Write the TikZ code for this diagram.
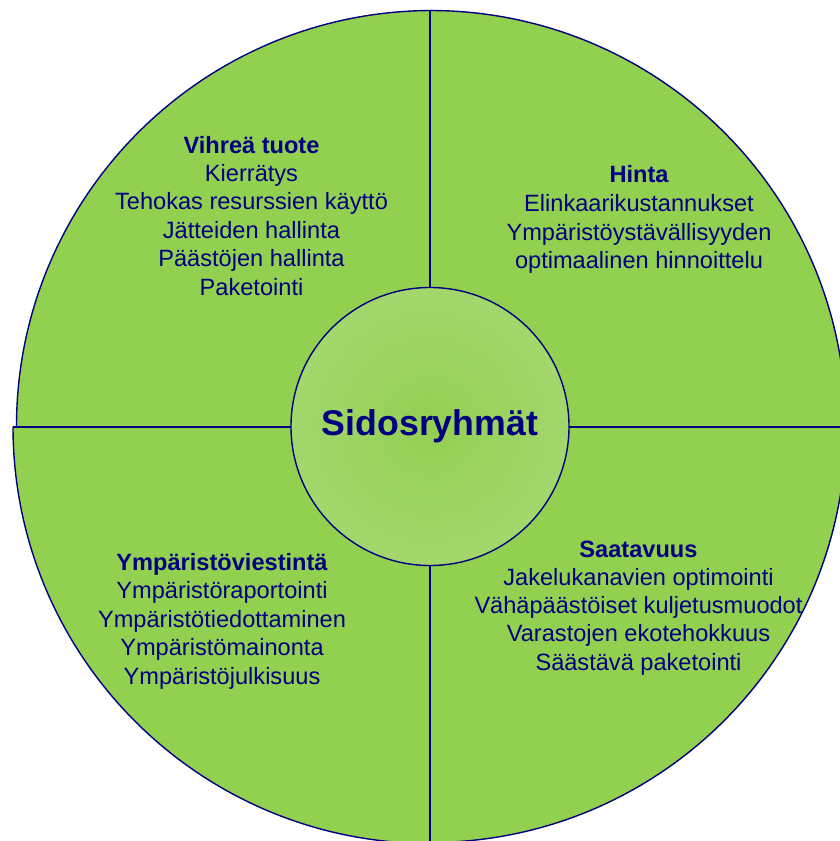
\documentclass[tikz,border=0pt]{standalone}
\usepackage{fontspec}
\setmainfont{Liberation Sans}
\definecolor{leaf}{HTML}{92D050}
\definecolor{ink}{HTML}{000080}
\definecolor{hubin}{HTML}{93D051}
\definecolor{hubout}{HTML}{B3DE88}
% soft radial glow for the central disc: green core, paler rim
\pgfdeclareradialshading{hubglow}{\pgfpoint{0bp}{0bp}}{color(0bp)=(hubin); color(50bp)=(hubout); color(100bp)=(hubout)}
\begin{document}
\begin{tikzpicture}[x=1pt,y=-1pt,
  sector/.style={fill=leaf},
  rim/.style={draw=ink,line width=1.4pt},
  divider/.style={draw=ink,line width=2pt},
  head/.style={anchor=base,text=ink,inner sep=0pt,font=\fontsize{23.6}{28}\selectfont\bfseries},
  item/.style={anchor=base,text=ink,inner sep=0pt,font=\fontsize{23.6}{28}\selectfont},
  hub/.style={circle,minimum size=278pt,inner sep=0pt,draw=ink,line width=1.4pt,
    shading=hubglow,text=ink,font=\fontsize{35.7}{40}\selectfont\bfseries}]
\useasboundingbox (0,0) rectangle (840,841);
\clip (0,0) rectangle (840,841);

% four quarter sectors of the wheel
\coordinate (c)  at (430,426.5);
\coordinate (cu) at (432.5,426.5);
\fill[sector] (cu) -- ++(180:416) arc (180:270:416) -- cycle;
\fill[sector] (c)  -- ++(270:416) arc (270:360:416) -- cycle;
\fill[sector] (c)  -- ++(0:416)   arc (0:90:416)    -- cycle;
\fill[sector] (c)  -- ++(90:417)  arc (90:180:417)  -- cycle;
\draw[rim] (cu) ++(180:416) arc (180:270:416);
\draw[rim] (c)  ++(270:416) arc (270:360:416);
\draw[rim] (c)  ++(0:416)   arc (0:90:416);
\draw[rim] (c)  ++(90:417)  arc (90:180:417);

% dividing spokes
\coordinate (top)    at (430,10.5);
\coordinate (bottom) at (430,844);
\coordinate (left)   at (12.8,426.5);
\coordinate (right)  at (846,426.5);
\draw[divider] (top) -- (bottom);
\draw[divider] (left) -- (right);

% hub
\node[hub] (hub) at (c) {Sidosryhmät};

% upper left quarter
\node[head] (vt0) at (251.5,153) {Vihreä tuote};
\node[item] (vt1) at (251.5,181.4) {Kierrätys};
\node[item] (vt2) at (251.5,209.8) {Tehokas resurssien käyttö};
\node[item] (vt3) at (251.5,238.2) {Jätteiden hallinta};
\node[item] (vt4) at (251.5,266.6) {Päästöjen hallinta};
\node[item] (vt5) at (251.5,295) {Paketointi};

% upper right quarter
\node[head] (hi0) at (639,182) {Hinta};
\node[item] (hi1) at (639,211) {Elinkaarikustannukset};
\node[item] (hi2) at (639,240) {Ympäristöystävällisyyden};
\node[item] (hi3) at (639,268.5) {optimaalinen hinnoittelu};

% lower left quarter
\node[head] (yv0) at (222,570) {Ympäristöviestintä};
\node[item] (yv1) at (222,598.5) {Ympäristöraportointi};
\node[item] (yv2) at (222,627) {Ympäristötiedottaminen};
\node[item] (yv3) at (222,655.5) {Ympäristömainonta};
\node[item] (yv4) at (222,684) {Ympäristöjulkisuus};

% lower right quarter
\node[head] (sa0) at (638.5,557) {Saatavuus};
\node[item] (sa1) at (638.5,585.3) {Jakelukanavien optimointi};
\node[item] (sa2) at (638.5,613.6) {Vähäpäästöiset kuljetusmuodot};
\node[item] (sa3) at (638.5,641.9) {Varastojen ekotehokkuus};
\node[item] (sa4) at (638.5,670.2) {Säästävä paketointi};
\end{tikzpicture}
\end{document}
